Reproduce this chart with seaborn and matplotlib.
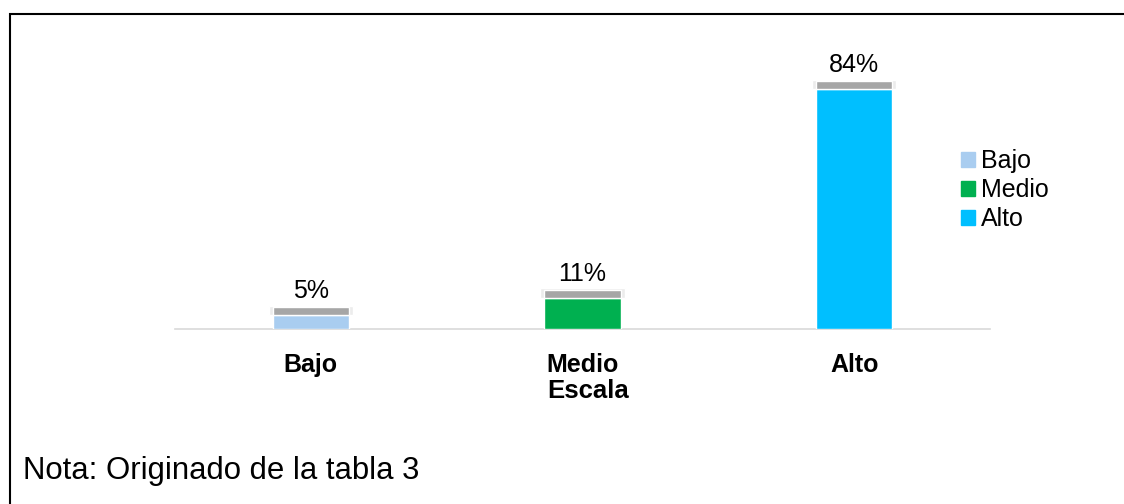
import matplotlib
matplotlib.use("Agg")
import matplotlib.pyplot as plt
import matplotlib.patches as mpatches
import seaborn as sns
import pandas as pd

# Data
niveles = ["Bajo", "Medio", "Alto"]
porcentajes = [5, 11, 84]
colores = ["#A9CDF0", "#00B050", "#00BFFF"]

df = pd.DataFrame({"Nivel": niveles, "Porcentaje": porcentajes})

sns.set_style("white")
plt.rcParams["font.family"] = ["Liberation Sans", "DejaVu Sans"]
plt.rcParams["text.color"] = "black"
plt.rcParams["xtick.color"] = "black"
plt.rcParams["axes.labelcolor"] = "black"

fig = plt.figure(figsize=(11.24, 5.04), dpi=100)
ax = fig.add_axes([175 / 1124, 1 - 329 / 504, 815 / 1124, 286 / 504])

sns.barplot(
    data=df,
    x="Nivel",
    y="Porcentaje",
    hue="Nivel",
    palette=colores,
    saturation=1,
    width=0.28,
    legend=False,
    ax=ax,
    zorder=3
)

# gray top band (shadow effect)
pos = range(len(niveles))
ax.bar(pos, [3.4] * len(niveles), bottom=[p - 0.2 for p in porcentajes],
       width=0.31, color="#ECECEC", zorder=2)
ax.bar(pos, [2.8] * len(niveles), bottom=porcentajes, width=0.28,
       color="#A6A6A6", zorder=3)

for i, v in enumerate(porcentajes):
    ax.text(i, v + 4.0, f"{v}%", ha="center", va="bottom", fontsize=18)

ax.set_xlim(-0.5, 2.5)
ax.set_ylim(0, 100)
ax.set_yticks([])
ax.set_ylabel("")
ax.set_xlabel("Escala", fontsize=18.5, fontweight="bold", labelpad=1)
ax.xaxis.set_label_coords(0.507, -0.175)
ax.tick_params(axis="x", length=0, labelsize=18, pad=17)
for lbl in ax.get_xticklabels():
    lbl.set_fontweight("bold")

for side in ["top", "left", "right"]:
    ax.spines[side].set_visible(False)
ax.spines["bottom"].set_color("#D9D9D9")
ax.spines["bottom"].set_linewidth(1.2)

handles = [mpatches.Patch(color=c, label=n) for n, c in zip(niveles, colores)]
fig.legend(
    handles=handles,
    loc="upper left",
    bbox_to_anchor=(961 / 1124, 1 - 149 / 504),
    frameon=False,
    fontsize=18,
    handlelength=0.55,
    handleheight=0.55,
    handletextpad=0.25,
    labelspacing=0.2,
    borderpad=0,
    borderaxespad=0
)

fig.text(23 / 1124, 1 - 479 / 504, "Nota: Originado de la tabla 3", fontsize=22.4,
         va="baseline", ha="left")

# outer border (open on the right and bottom, as in the source)
border = mpatches.Rectangle((10 / 1124, -0.1), 1.2, 1.1 - 14 / 504,
                            transform=fig.transFigure, fill=False,
                            edgecolor="black", linewidth=1.5, clip_on=False)
fig.patches.append(border)

fig.savefig("out.png", dpi=100)
